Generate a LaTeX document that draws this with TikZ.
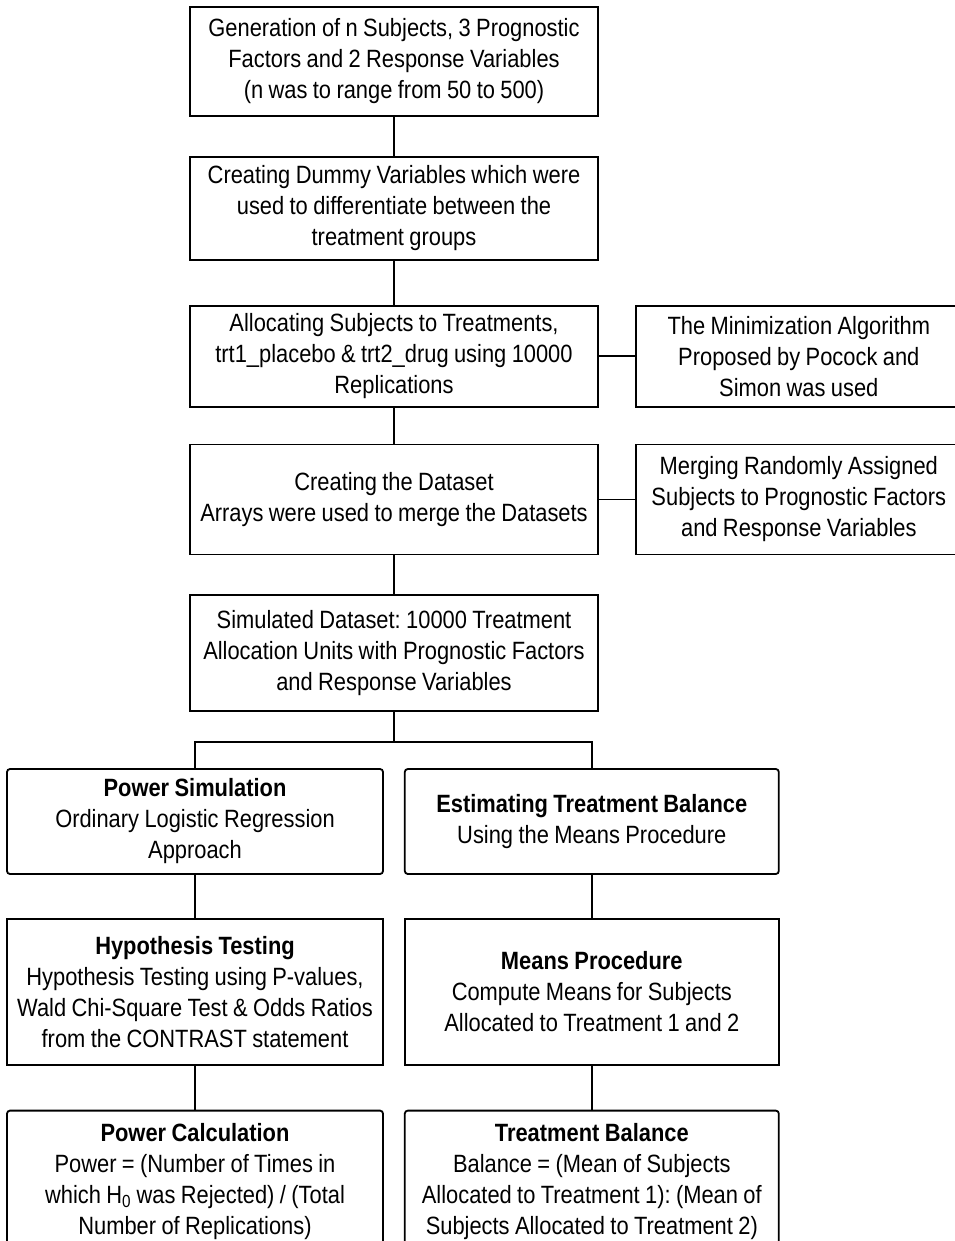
\documentclass[tikz,border=0pt]{standalone}
\usepackage{fontspec}
\setmainfont{Liberation Sans}[FakeStretch=0.875]
\frenchspacing
\usetikzlibrary{positioning}
\newcommand{\boxfont}{\fontsize{25}{31}\selectfont\spaceskip=5.4pt plus 1pt}
\tikzset{
  box/.style={rectangle, draw=black, line width=1.8pt, fill=white,
              inner xsep=0pt, inner ysep=2pt, align=center,
              font=\boxfont},
  rbox/.style={box, rounded corners=3pt},
  link/.style={line width=1.8pt},
}

\begin{document}
\begin{tikzpicture}[x=1pt, y=-1pt]
  \useasboundingbox (0,0) rectangle (954,1241);

  % Main column
  \node[box, minimum width=408pt, minimum height=109pt] (gen) at (394,61.5)
    {Generation of n Subjects, 3 Prognostic\\Factors and 2 Response Variables\\(n was to range from 50 to 500)};
  \node[box, minimum width=408pt, minimum height=103pt, below=39pt of gen] (dummy)
    {Creating Dummy Variables which were\\used to differentiate between the\\treatment groups};
  \node[box, minimum width=408pt, minimum height=101pt, below=44pt of dummy] (alloc)
    {Allocating Subjects to Treatments,\\trt1\_placebo \& trt2\_drug using 10000\\Replications};
  \node[box, minimum width=408pt, minimum height=110pt, below=36pt of alloc] (dataset)
    {Creating the Dataset\\Arrays were used to merge the Datasets};
  \node[box, minimum width=408pt, minimum height=116pt, below=39pt of dataset] (simdata)
    {Simulated Dataset: 10000 Treatment\\Allocation Units with Prognostic Factors\\and Response Variables};

  % Side boxes
  \node[box, minimum width=326pt, minimum height=101pt, right=36pt of alloc] (minim)
    {The Minimization Algorithm\\Proposed by Pocock and\\Simon was used};
  \node[box, minimum width=326pt, minimum height=110pt, right=36pt of dataset] (merge)
    {Merging Randomly Assigned\\Subjects to Prognostic Factors\\and Response Variables};

  % Two branches
  \node[rbox, minimum width=376pt, minimum height=105pt] (powsim) at (195,821.5)
    {\textbf{Power Simulation}\\Ordinary Logistic Regression\\Approach};
  \node[rbox, minimum width=374pt, minimum height=105pt, right=20pt of powsim] (estbal)
    {\textbf{Estimating Treatment Balance}\\Using the Means Procedure};

  \node[box, minimum width=376pt, minimum height=146pt, below=43pt of powsim] (hyptest)
    {\textbf{Hypothesis Testing}\\Hypothesis Testing using P-values,\\Wald Chi-Square Test \& Odds Ratios\\from the CONTRAST statement};
  \node[box, minimum width=374pt, minimum height=146pt, below=43pt of estbal] (meanproc)
    {\textbf{Means Procedure}\\Compute Means for Subjects\\Allocated to Treatment 1 and 2};

  \node[rbox, minimum width=376pt, minimum height=142pt, below=44pt of hyptest] (powcalc)
    {\textbf{Power Calculation}\\Power = (Number of Times in\\which H\textsubscript{0} was Rejected) / (Total\\Number of Replications)};
  \node[rbox, minimum width=374pt, minimum height=142pt, below=44pt of meanproc] (balance)
    {\textbf{Treatment Balance}\\Balance = (Mean of Subjects\\Allocated to Treatment 1): (Mean of\\Subjects Allocated to Treatment 2)};

  % Connectors
  \draw[link] (gen) -- (dummy);
  \draw[link] (dummy) -- (alloc);
  \draw[link] (alloc) -- (dataset);
  \draw[link] (dataset) -- (simdata);
  \draw[link] (alloc) -- (minim);
  \draw[link] (dataset) -- (merge);
  \draw[link] (simdata.south) -- ++(0,30) coordinate (split);
  \draw[link] (powsim.north) |- (split) -| (estbal.north);
  \draw[link] (powsim) -- (hyptest);
  \draw[link] (hyptest) -- (powcalc);
  \draw[link] (estbal) -- (meanproc);
  \draw[link] (meanproc) -- (balance);
\end{tikzpicture}
\end{document}
